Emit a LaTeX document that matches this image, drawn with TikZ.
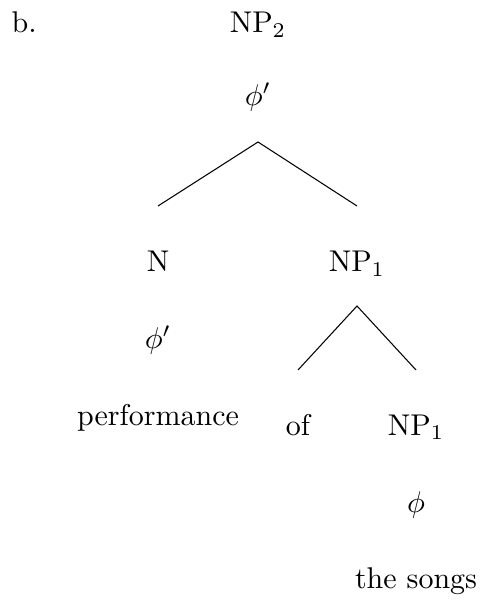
\documentclass[tikz,border=0pt]{standalone}
\begin{document}
\begin{tikzpicture}[x=0.3333pt,y=-0.3333pt,
  lbl/.style={inner sep=0pt,anchor=base},
  sym/.style={inner sep=0pt,anchor=center},
  edge/.style={line width=0.35pt}]
\useasboundingbox (0,0) rectangle (480,601);
\node[lbl,anchor=base west] (ex) at (11,33) {b.};
\node[lbl] (np2) at (258,33) {NP$_2$};
\node[sym] (phi1) at (258,97) {$\phi'$};
\coordinate (a1) at (258,142);
\coordinate (l1) at (158,206);
\coordinate (r1) at (357,206);
\node[lbl] (n) at (158,272) {N};
\node[lbl] (np1) at (357,272) {NP$_1$};
\node[sym] (phi2) at (158,340) {$\phi'$};
\coordinate (a2) at (357,306);
\coordinate (l2) at (298,370);
\coordinate (r2) at (416,370);
\node[lbl] (perf) at (158,425) {performance};
\node[lbl] (of) at (298,435) {of};
\node[lbl] (np1b) at (416,435) {NP$_1$};
\node[sym] (phi3) at (416,505) {$\phi$};
\node[lbl] (songs) at (416,588) {the songs};
\draw[edge] (l1) -- (a1) -- (r1);
\draw[edge] (l2) -- (a2) -- (r2);
\end{tikzpicture}
\end{document}
